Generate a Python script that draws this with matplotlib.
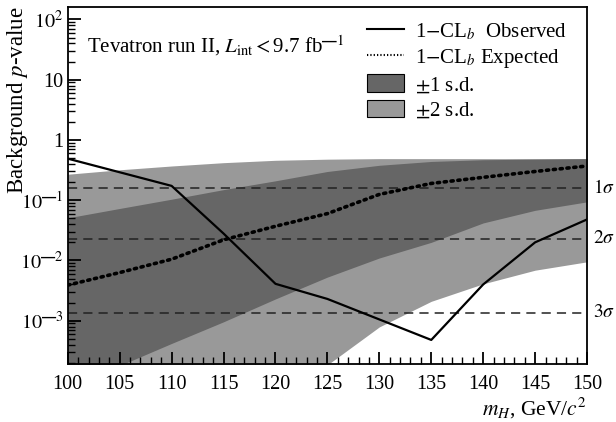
import matplotlib
matplotlib.use("Agg")
import matplotlib.pyplot as plt
from matplotlib.ticker import FixedLocator, FixedFormatter, MultipleLocator
from matplotlib.lines import Line2D
from matplotlib.patches import Patch

plt.rcParams['font.family'] = ['Liberation Serif', 'DejaVu Serif']
plt.rcParams['mathtext.fontset'] = 'stix'

# Higgs mass points (GeV/c^2)
mass = [100, 105, 110, 115, 120, 125, 130, 135, 140, 145, 150]
expected = [0.0039, 0.0063, 0.0105, 0.022, 0.037, 0.060, 0.125, 0.19, 0.24, 0.30, 0.37]
band1_lo = [8e-5, 1.8e-4, 4.2e-4, 9.6e-4, 0.0023, 0.0053, 0.011, 0.020, 0.042, 0.068, 0.094]
band1_hi = [0.051, 0.073, 0.104, 0.15, 0.21, 0.30, 0.38, 0.44, 0.47, 0.48, 0.49]
band2_lo = [1e-5, 1.5e-5, 2.2e-5, 3.5e-5, 6e-5, 1.85e-4, 7.9e-4, 0.0021, 0.0041, 0.0069, 0.0095]
band2_hi = [0.27, 0.32, 0.37, 0.42, 0.46, 0.48, 0.49, 0.49, 0.49, 0.49, 0.49]

obs_mass = [100, 110, 115, 120, 125, 135, 140, 145, 150]
observed = [0.49, 0.173, 0.028, 0.0041, 0.0023, 0.00048, 0.0040, 0.020, 0.048]

# one-sided gaussian p-values
sigma_p = [0.1587, 0.02275, 0.00135]
sigma_labels = [r'$1\sigma$', r'$2\sigma$', r'$3\sigma$']

DASH = '\\mathbf{\u2014}'
ytick_vals = [1e-3, 1e-2, 1e-1, 1, 10, 100]
ytick_labels = ['$10^{' + DASH + '3}$', '$10^{' + DASH + '2}$', '$10^{' + DASH + '1}$',
                '1', '10', r'$10^{2}$']

fig = plt.figure(figsize=(6.16, 4.22), dpi=100)
ax = fig.add_axes([0.110, 0.137, 0.843, 0.846])

c1 = '#666666'
c2 = '#999999'
ax.fill_between(mass, band2_lo, band2_hi, color=c2, lw=0)
ax.fill_between(mass, band1_lo, band1_hi, color=c1, lw=0)

for p in sigma_p:
    ax.axhline(p, color='#222222', lw=1.1, ls=(0, (6, 4)))

ax.plot(mass, expected, color='black', lw=2.6, ls=(0, (0.6, 1.3)), dash_capstyle='round')
ax.plot(obs_mass, observed, color='black', lw=1.6)

ax.set_yscale('log')
ax.set_xlim(100, 150)
ax.set_ylim(1.9e-4, 160)

ax.xaxis.set_major_locator(MultipleLocator(5))
ax.xaxis.set_minor_locator(MultipleLocator(1))
ax.yaxis.set_major_locator(FixedLocator(ytick_vals))
ax.yaxis.set_major_formatter(FixedFormatter(ytick_labels))
ax.tick_params(which='both', direction='in', top=False, right=False, labelsize=14.5)
ax.tick_params(which='major', length=9, width=1.3)
ax.tick_params(which='minor', length=5, width=1.0)
ax.tick_params(axis='x', pad=8)
ax.tick_params(axis='y', pad=3)
for s in ax.spines.values():
    s.set_linewidth(1.3)

trans = ax.get_yaxis_transform()
for p, lab in zip(sigma_p, sigma_labels):
    ax.text(1.012, p, lab, transform=trans, ha='left', va='center', fontsize=14)

ax.set_ylabel(r'Background $p$-value', fontsize=16.5, loc='top')
ax.yaxis.set_label_coords(-0.072, 1.003)
ax.set_xlabel(r'$m_H$, GeV/$c^2$', fontsize=15.5, loc='right', labelpad=1)

ax.text(0.037, 0.893, r'Tevatron run II, $L_{\rm int}$$<$9.7 fb$^{' + DASH + '1}$',
        transform=ax.transAxes, fontsize=15, ha='left', va='center')

handles = [Line2D([], [], color='black', lw=1.5),
           Line2D([], [], color='black', lw=1.5, ls=(0, (0.6, 1.0))),
           Patch(facecolor=c1, edgecolor='black', lw=0.8),
           Patch(facecolor=c2, edgecolor='black', lw=0.8)]
labels = [r'1$-$CL$_b$  Observed', r'1$-$CL$_b$ Expected',
          r'$\pm$1 s.d.', r'$\pm$2 s.d.']
ax.legend(handles, labels, loc='upper right', frameon=False, fontsize=15,
          handlelength=1.8, handleheight=0.9, handletextpad=0.5,
          labelspacing=0.22, borderaxespad=0.2, bbox_to_anchor=(0.985, 0.995))

fig.savefig('out.png', dpi=100)
